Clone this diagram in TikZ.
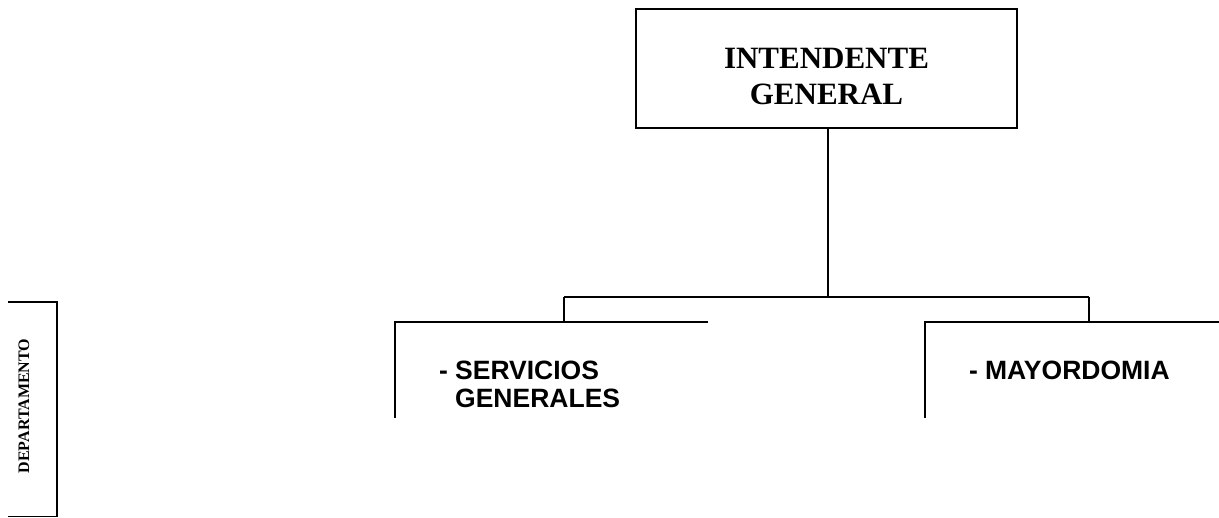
\documentclass[tikz,border=0pt]{standalone}
\usepackage{fontspec}
\setmainfont{Liberation Serif}
\setsansfont{Liberation Sans}
\usetikzlibrary{positioning}

\begin{document}
\begin{tikzpicture}[x=1pt,y=-1pt,line width=2pt,
  jefe/.style={draw,minimum width=381pt,minimum height=119pt,inner sep=0pt},
  jefetexto/.style={anchor=base,inner sep=0pt,align=center,
    font=\fontsize{31}{36}\selectfont\bfseries},
  area/.style={anchor=base west,inner sep=0pt,align=left,
    font=\sffamily\fontsize{26.5}{28}\selectfont\bfseries},
  titulo/.style={rotate=90,inner sep=0pt,font=\fontsize{16}{18}\selectfont\bfseries}]
\useasboundingbox (0,0) rectangle (1219,518);

\node[jefe] (intendente) at (826.5,68.5) {};
\node[jefetexto] (intendentetxt) at (826.5,105) {INTENDENTE\\GENERAL};
\coordinate (tronco) at (828,297);
\coordinate (ramaizq) at (564,297);
\coordinate (ramader) at (1089,297);
\coordinate (servicios) at (395,322);
\coordinate (mayordomia) at (925,322);

\draw (intendente.south -| tronco) -- (tronco);
\draw (ramaizq) -- (ramader);
\draw (ramaizq) -- (ramaizq |- servicios);
\draw (ramader) -- (ramader |- mayordomia);

\draw (708,322) -- (servicios) -- (395,418);
\draw (1219,322) -- (mayordomia) -- (925,418);

\node[area] (sg) at (438,408) {- SERVICIOS\\\hphantom{-}\ GENERALES};
\node[area] (my) at (968,380) {- MAYORDOMIA};

% recuadro del costado
\draw (8,302) -- (57,302) -- (57,517);
\draw[line width=1pt] (57,517) -- (8,517);
\node[titulo] (depto) at (24,406) {DEPARTAMENTO};
\end{tikzpicture}
\end{document}
